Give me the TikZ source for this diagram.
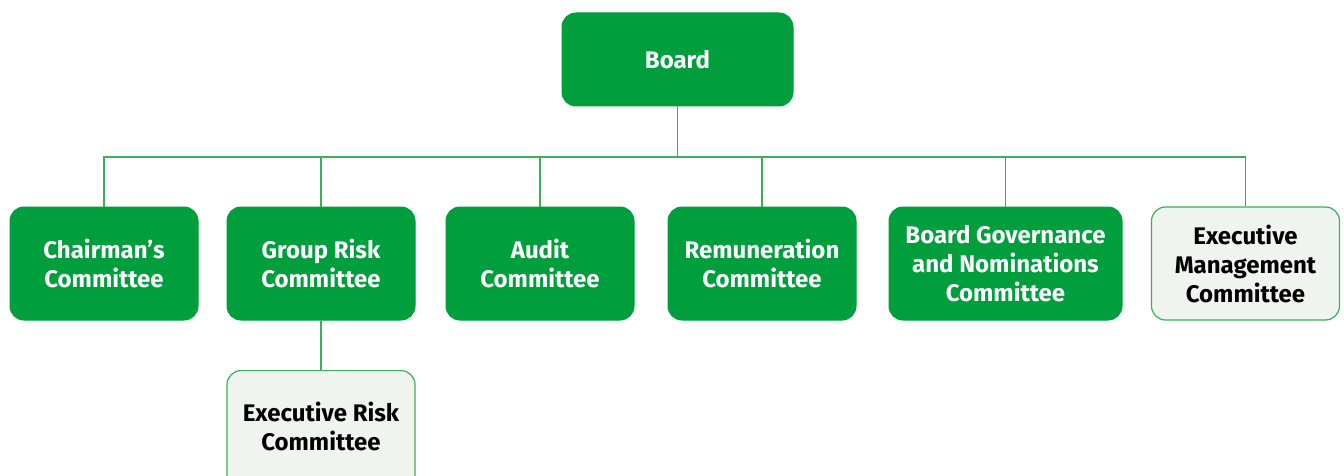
\documentclass[tikz,border=0pt]{standalone}
\usepackage{fontspec}
\setmainfont{Fira Sans}
\definecolor{bgreen}{HTML}{009E3D}
\definecolor{lgreen}{HTML}{3DAE5E}
\definecolor{lfill}{HTML}{F0F4EF}
\begin{document}
\begin{tikzpicture}[x=1pt,y=-1pt,
  box/.style={draw=bgreen,fill=bgreen,rounded corners=14pt,text=white,font=\fontsize{24}{29}\selectfont\bfseries,align=center,inner sep=0pt,line width=1pt},
  lbox/.style={draw=lgreen,fill=lfill,rounded corners=14pt,text=black,font=\fontsize{24}{29}\selectfont\bfseries,align=center,inner sep=0pt,line width=1.2pt},
  conn/.style={draw=lgreen,line width=1.3pt}]
\useasboundingbox (0,0) rectangle (1344,476);
\begin{scope}
\clip (0,0) rectangle (1344,476);
\node[box,minimum width=231pt,minimum height=93pt] (board) at (677.5,59.5) {Board};
\node[box,minimum width=188pt,minimum height=113pt] (chair) at (104,263.5) {Chairman’s\\Committee};
\node[box,minimum width=188pt,minimum height=113pt] (grc) at (321,263.5) {Group Risk\\Committee};
\node[box,minimum width=188pt,minimum height=113pt] (audit) at (540,263.5) {Audit\\Committee};
\node[box,minimum width=188pt,minimum height=113pt] (rem) at (762,263.5) {Remuneration\\Committee};
\node[box,minimum width=233pt,minimum height=113pt] (bgn) at (1005.5,263.5) {Board Governance\\and Nominations\\Committee};
\node[lbox,minimum width=188pt,minimum height=113pt] (emc) at (1245.5,263.5) {Executive\\Management\\Committee};
\node[lbox,minimum width=188pt,minimum height=140pt,anchor=north] (erc) at (321,370) {};
\node[font=\fontsize{24}{29}\selectfont\bfseries,align=center,inner sep=0pt] (erct) at (321,426) {Executive Risk\\Committee};
\coordinate (bus) at (677.5,157);
\draw[conn] (board.south) -- (bus);
\draw[conn] (chair.north) |- (bus);
\draw[conn] (emc.north) |- (bus);
\draw[conn] (grc.north) -- (grc.north |- bus);
\draw[conn] (audit.north) -- (audit.north |- bus);
\draw[conn] (rem.north) -- (rem.north |- bus);
\draw[conn] (bgn.north) -- (bgn.north |- bus);
\draw[conn] (grc.south) -- (erc.north);
\end{scope}
\end{tikzpicture}
\end{document}
